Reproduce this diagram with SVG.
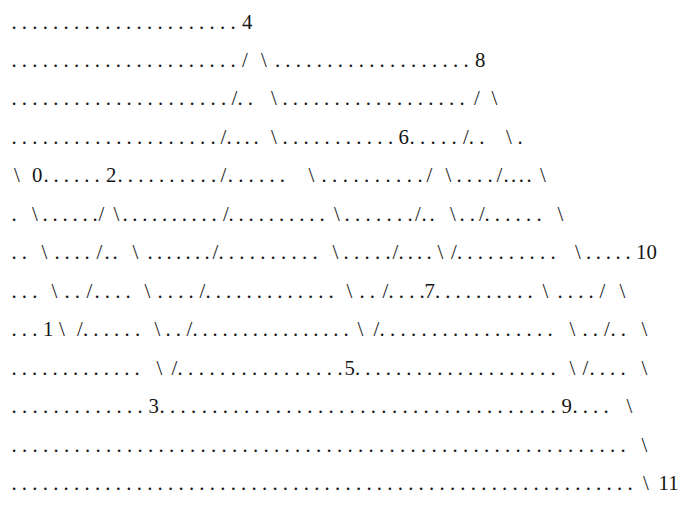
<svg xmlns="http://www.w3.org/2000/svg" width="695" height="506" viewBox="0 0 695 506">
<style>
text { font-family: "Liberation Serif", "Times New Roman", serif; font-size: 20.8px; fill: #151515; }
</style>
<rect width="695" height="506" fill="#ffffff"/>
<g id="row1"><text y="28.5"><tspan x="11.4" textLength="224.2" lengthAdjust="spacing">. . . . . . . . . . . . . . . . . . . . . .</tspan><tspan x="242">4</tspan></text></g>
<g id="row2"><text y="67"><tspan x="11.4" textLength="224.2" lengthAdjust="spacing">. . . . . . . . . . . . . . . . . . . . . .</tspan><tspan x="242">/</tspan><tspan x="261">\</tspan><tspan x="274.9" textLength="193.7" lengthAdjust="spacing">. . . . . . . . . . . . . . . . . . .</tspan><tspan x="475">8</tspan></text></g>
<g id="row3"><text y="105.4"><tspan x="11.4" textLength="214.7" lengthAdjust="spacing">. . . . . . . . . . . . . . . . . . . . .</tspan><tspan x="231.5">/</tspan><tspan x="237.4">. .</tspan><tspan x="271">\</tspan><tspan x="282.4" textLength="182.2" lengthAdjust="spacing">. . . . . . . . . . . . . . . . . .</tspan><tspan x="474">/</tspan><tspan x="491.5">\</tspan></text></g>
<g id="row4"><text y="143.9"><tspan x="11.4" textLength="204.2" lengthAdjust="spacing">. . . . . . . . . . . . . . . . . . . .</tspan><tspan x="220.5">/</tspan><tspan x="226.4" textLength="32.2" lengthAdjust="spacing">. . . .</tspan><tspan x="271">\</tspan><tspan x="282.4" textLength="110.7" lengthAdjust="spacing">. . . . . . . . . . .</tspan><tspan x="398.5">6</tspan><tspan x="409.4" textLength="47.2" lengthAdjust="spacing">. . . . .</tspan><tspan x="463">/</tspan><tspan x="468.8">. .</tspan><tspan x="506">\</tspan><tspan x="517.4">.</tspan></text></g>
<g id="row5"><text y="182.3"><tspan x="14">\</tspan><tspan x="32">0</tspan><tspan x="43.4" textLength="56.2" lengthAdjust="spacing">. . . . . .</tspan><tspan x="106">2</tspan><tspan x="117.4" textLength="98.7" lengthAdjust="spacing">. . . . . . . . . .</tspan><tspan x="220.5">/</tspan><tspan x="227.8">. . . . . .</tspan><tspan x="308.5">\</tspan><tspan x="321.4" textLength="101.2" lengthAdjust="spacing">. . . . . . . . . .</tspan><tspan x="426.5">/</tspan><tspan x="445.5">\</tspan><tspan x="456.4" textLength="36.2" lengthAdjust="spacing">. . . .</tspan><tspan x="496.5">/</tspan><tspan x="503.4" textLength="28.2" lengthAdjust="spacing">. . . .</tspan><tspan x="540">\</tspan></text></g>
<g id="row6"><text y="220.8"><tspan x="11.4">.</tspan><tspan x="32">\</tspan><tspan x="42.4" textLength="55.2" lengthAdjust="spacing">. . . . . .</tspan><tspan x="98.5">/</tspan><tspan x="113.5">\</tspan><tspan x="122.4" textLength="94.2" lengthAdjust="spacing">. . . . . . . . . .</tspan><tspan x="223">/</tspan><tspan x="228.4" textLength="96.2" lengthAdjust="spacing">. . . . . . . . . .</tspan><tspan x="334">\</tspan><tspan x="344.4" textLength="68.2" lengthAdjust="spacing">. . . . . . .</tspan><tspan x="415">/</tspan><tspan x="421.4" textLength="13.2" lengthAdjust="spacing">. .</tspan><tspan x="450">\</tspan><tspan x="459.4">. .</tspan><tspan x="479">/</tspan><tspan x="484.4" textLength="57.2" lengthAdjust="spacing">. . . . . .</tspan><tspan x="557.5">\</tspan></text></g>
<g id="row7"><text y="259.2"><tspan x="11.4">. .</tspan><tspan x="41.5">\</tspan><tspan x="54.4" textLength="35.2" lengthAdjust="spacing">. . . .</tspan><tspan x="96.5">/</tspan><tspan x="104.4" textLength="13.2" lengthAdjust="spacing">. .</tspan><tspan x="132.5">\</tspan><tspan x="147.4" textLength="62.2" lengthAdjust="spacing">. . . . . . .</tspan><tspan x="212.5">/</tspan><tspan x="218.4" textLength="99.2" lengthAdjust="spacing">. . . . . . . . . .</tspan><tspan x="332.5">\</tspan><tspan x="343.4" textLength="47.2" lengthAdjust="spacing">. . . . .</tspan><tspan x="392.5">/</tspan><tspan x="398.4" textLength="33.2" lengthAdjust="spacing">. . . .</tspan><tspan x="437.5">\</tspan><tspan x="451">/</tspan><tspan x="456.9" textLength="98.7" lengthAdjust="spacing">. . . . . . . . . .</tspan><tspan x="575">\</tspan><tspan x="586" textLength="44.6" lengthAdjust="spacing">. . . . .</tspan><tspan x="636">10</tspan></text></g>
<g id="row8"><text y="297.7"><tspan x="11.4">. . .</tspan><tspan x="51.5">\</tspan><tspan x="64.4">. .</tspan><tspan x="86.5">/</tspan><tspan x="94.4">. . . .</tspan><tspan x="144.5">\</tspan><tspan x="157.4">. . . .</tspan><tspan x="199.5">/</tspan><tspan x="205.4" textLength="128.2" lengthAdjust="spacing">. . . . . . . . . . . . .</tspan><tspan x="346.5">\</tspan><tspan x="359.4">. .</tspan><tspan x="382.5">/</tspan><tspan x="388.4">. . . .</tspan><tspan x="424.5">7</tspan><tspan x="435" textLength="97.6" lengthAdjust="spacing">. . . . . . . . . .</tspan><tspan x="542.5">\</tspan><tspan x="557.4">. . . .</tspan><tspan x="599.5">/</tspan><tspan x="619.5">\</tspan></text></g>
<g id="row9"><text y="336.1"><tspan x="11.4">. . .</tspan><tspan x="43">1</tspan><tspan x="59">\</tspan><tspan x="77">/</tspan><tspan x="82.9">. . . . . .</tspan><tspan x="154.5">\</tspan><tspan x="165.4">. .</tspan><tspan x="186.5">/</tspan><tspan x="192.4" textLength="156.2" lengthAdjust="spacing">. . . . . . . . . . . . . . . .</tspan><tspan x="357.5">\</tspan><tspan x="373.5">/</tspan><tspan x="379.4" textLength="173.2" lengthAdjust="spacing">. . . . . . . . . . . . . . . . .</tspan><tspan x="569.5">\</tspan><tspan x="582.4">. .</tspan><tspan x="604">/</tspan><tspan x="610.4">. .</tspan><tspan x="641.5">\</tspan></text></g>
<g id="row10"><text y="374.6"><tspan x="11.4" textLength="128.2" lengthAdjust="spacing">. . . . . . . . . . . . .</tspan><tspan x="156.5">\</tspan><tspan x="171.5">/</tspan><tspan x="177.4" textLength="165.2" lengthAdjust="spacing">. . . . . . . . . . . . . . . .</tspan><tspan x="344.5">5</tspan><tspan x="354.9" textLength="200.7" lengthAdjust="spacing">. . . . . . . . . . . . . . . . . . . .</tspan><tspan x="569.5">\</tspan><tspan x="582.5">/</tspan><tspan x="589.4" textLength="36.2" lengthAdjust="spacing">. . . .</tspan><tspan x="641.5">\</tspan></text></g>
<g id="row11"><text y="413"><tspan x="11.4" textLength="131.2" lengthAdjust="spacing">. . . . . . . . . . . . .</tspan><tspan x="148.5">3</tspan><tspan x="159.4" textLength="396.2" lengthAdjust="spacing">. . . . . . . . . . . . . . . . . . . . . . . . . . . . . . . . . . . . . .</tspan><tspan x="561.5">9</tspan><tspan x="572.4" textLength="36.2" lengthAdjust="spacing">. . . .</tspan><tspan x="626.5">\</tspan></text></g>
<g id="row12"><text y="451.5"><tspan x="11.4" textLength="614.2" lengthAdjust="spacing">. . . . . . . . . . . . . . . . . . . . . . . . . . . . . . . . . . . . . . . . . . . . . . . . . . . . . . . . . . .</tspan><tspan x="641.5">\</tspan></text></g>
<g id="row13"><text y="489.9"><tspan x="11.4" textLength="621.2" lengthAdjust="spacing">. . . . . . . . . . . . . . . . . . . . . . . . . . . . . . . . . . . . . . . . . . . . . . . . . . . . . . . . . . . .</tspan><tspan x="643">\</tspan><tspan x="658.5">11</tspan></text></g>
</svg>
